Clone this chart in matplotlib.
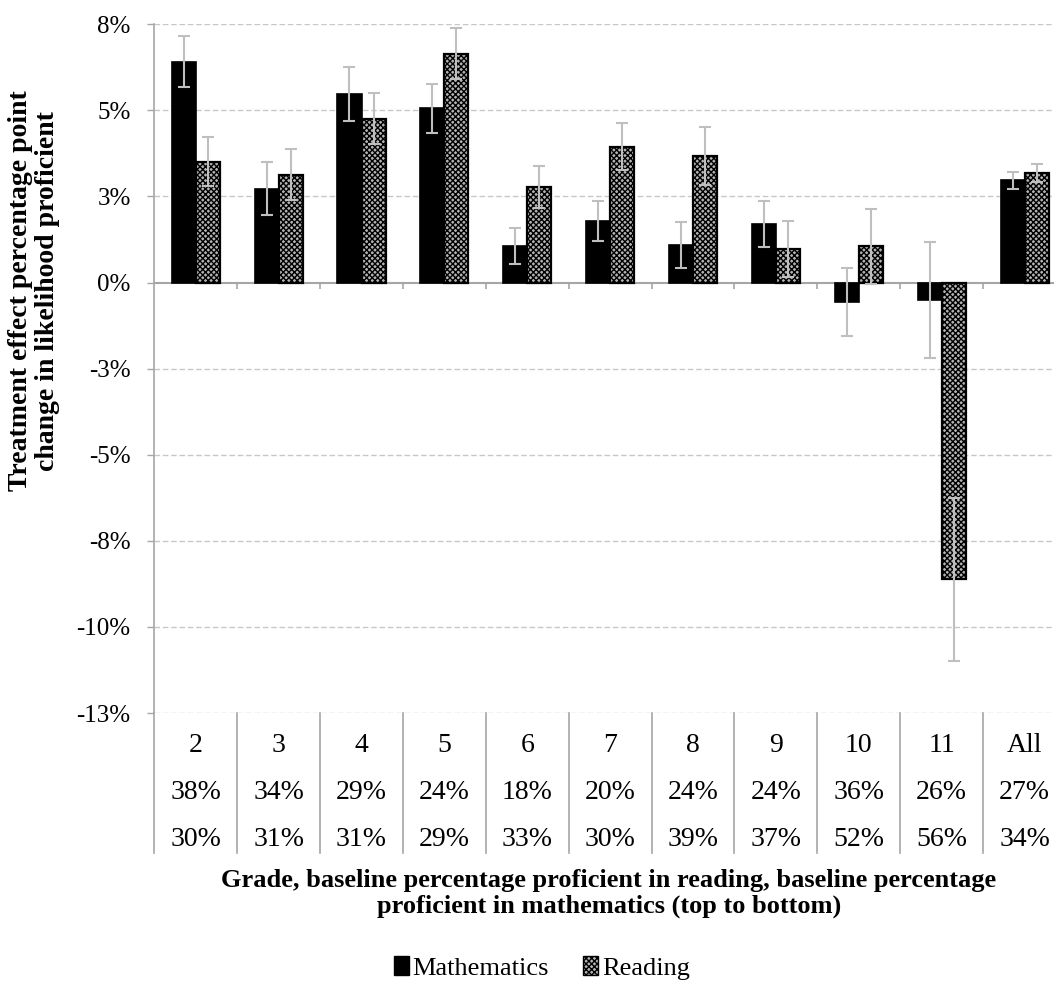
import matplotlib
matplotlib.use("Agg")
import matplotlib.pyplot as plt
import numpy as np
from matplotlib.patches import Patch

plt.rcParams['font.family'] = ['Liberation Serif', 'DejaVu Serif']
plt.rcParams['hatch.linewidth'] = 1.0

# ---------------- data ----------------
grades = ['2', '3', '4', '5', '6', '7', '8', '9', '10', '11', 'All']
base_reading = ['38%', '34%', '29%', '24%', '18%', '20%', '24%', '24%', '36%', '26%', '27%']
base_math = ['30%', '31%', '31%', '29%', '33%', '30%', '39%', '37%', '52%', '56%', '34%']

math_effect = [6.41, 2.73, 5.48, 5.06, 1.06, 1.79, 1.09, 1.70, -0.56, -0.51, 2.97]
math_err = [0.74, 0.78, 0.79, 0.71, 0.52, 0.59, 0.68, 0.68, 0.99, 1.68, 0.24]
reading_effect = [3.51, 3.13, 4.76, 6.65, 2.77, 3.94, 3.68, 0.98, 1.05, -8.62, 3.18]
reading_err = [0.72, 0.74, 0.75, 0.75, 0.61, 0.68, 0.84, 0.81, 1.08, 2.36, 0.26]

yticks = [-12.5, -10, -7.5, -5, -2.5, 0, 2.5, 5, 7.5]
ytick_labels = ['-13%', '-10%', '-8%', '-5%', '-3%', '0%', '3%', '5%', '8%']

ylabel_lines = ['Treatment effect percentage point', 'change in likelihood proficient']
xlabel_lines = ['Grade, baseline percentage proficient in reading, baseline percentage',
                'proficient in mathematics (top to bottom)']

# ---------------- figure ----------------
W, H = 1054, 984
fig = plt.figure(figsize=(W / 100, H / 100), dpi=100)
ax_left, ax_right, ax_top, ax_bot = 154.3, 1066.0, 24.3, 713.0
ax = fig.add_axes([ax_left / W, 1 - ax_bot / H, (ax_right - ax_left) / W, (ax_bot - ax_top) / H])

x = np.arange(len(grades))
bw = 0.29
grey_line = '#a6a6a6'
read_face = '#b4b4b4'
read_hatch = 'xxxxxx'

ax.bar(x - bw / 2, math_effect, bw, color='black', edgecolor='black', linewidth=1.2, zorder=3,
       label='Mathematics')
ax.bar(x + bw / 2, reading_effect, bw, color=read_face, edgecolor='black', hatch=read_hatch,
       linewidth=1.6, zorder=3, label='Reading')

ax.errorbar(x - bw / 2, math_effect, yerr=math_err, fmt='none', ecolor='#bfbfbf', elinewidth=1.5,
            capsize=4, capthick=1.5, zorder=4)
ax.errorbar(x + bw / 2, reading_effect, yerr=reading_err, fmt='none', ecolor='#bfbfbf', elinewidth=1.5,
            capsize=4, capthick=1.5, zorder=4)

ax.set_xlim(-0.5, len(grades) - 0.5)
ax.set_ylim(-12.5, 7.5)
ax.set_yticks(yticks)
ax.set_yticklabels(ytick_labels, fontsize=18)
ax.tick_params(axis='y', length=5, width=1, color=grey_line, pad=12)
ax.set_xticks([])

for yt in yticks:
    if yt != 0:
        ax.axhline(yt, color='#c8c8c8', lw=1, ls=(0, (4, 2)), zorder=1)

for s in ['top', 'right', 'bottom']:
    ax.spines[s].set_visible(False)
ax.spines['left'].set_color(grey_line)
ax.spines['left'].set_linewidth(1.2)

# horizontal axis at zero with tick marks between categories
ax.axhline(0, color=grey_line, lw=1.5, zorder=2)
bounds = np.arange(len(grades) - 1) + 0.5
ax.vlines(bounds, -0.2, 0, color=grey_line, lw=1.2, zorder=2)

# multi-level category table below plot
tr = ax.get_xaxis_transform()
for b in np.arange(len(grades) + 1) - 0.5:
    ax.plot([b, b], [0, -0.203], transform=tr, color=grey_line, lw=1.2, clip_on=False)
for i in range(len(grades)):
    ax.text(x[i], -0.0465, grades[i], transform=tr, ha='center', va='center', fontsize=20)
    ax.text(x[i], -0.116, base_reading[i], transform=tr, ha='center', va='center', fontsize=20)
    ax.text(x[i], -0.184, base_math[i], transform=tr, ha='center', va='center', fontsize=20)

# axis titles (one text per line for exact placement)
for xpix, line in zip([20.5, 48], ylabel_lines):
    fig.text(xpix / W, 1 - 291 / H, line, rotation=90, ha='center', va='center',
             fontsize=20, fontweight='bold')
for ypix, line in zip([880, 906], xlabel_lines):
    fig.text(609 / W, 1 - ypix / H, line, ha='center', va='center',
             fontsize=19, fontweight='bold')

handles = [Patch(facecolor='black', edgecolor='black', label='Mathematics'),
           Patch(facecolor=read_face, edgecolor='black', hatch=read_hatch, label='Reading')]
fig.legend(handles=handles, loc='center', bbox_to_anchor=(542 / W, 1 - 968 / H), ncol=2,
           frameon=False, fontsize=19, handlelength=0.55, handleheight=0.7, handletextpad=0.15,
           columnspacing=1.3)

fig.savefig('out.png', dpi=100)
